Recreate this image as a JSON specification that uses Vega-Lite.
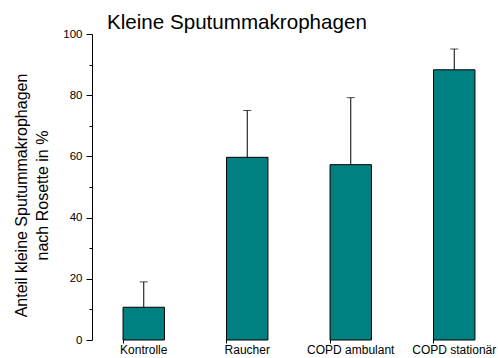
{
  "$schema": "https://vega.github.io/schema/vega-lite/v6.json",
  "autosize": "none",
  "width": 406,
  "height": 306,
  "padding": {"left": 92, "top": 34, "right": 0, "bottom": 18},
  "title": {
    "text": "Kleine Sputummakrophagen",
    "font": "Liberation Sans",
    "fontSize": 20.6,
    "fontWeight": "normal",
    "color": "black",
    "anchor": "start",
    "frame": "group",
    "dx": 15,
    "baseline": "alphabetic",
    "offset": -21.5
  },
  "data": {
    "values": [
      {"gruppe": "Kontrolle", "anteil": 10.7, "oben": 19.0},
      {"gruppe": "Raucher", "anteil": 59.7, "oben": 75.0},
      {"gruppe": "COPD ambulant", "anteil": 57.3, "oben": 79.2},
      {"gruppe": "COPD stationär", "anteil": 88.3, "oben": 95.1}
    ]
  },
  "encoding": {
    "x": {
      "field": "gruppe",
      "type": "nominal",
      "sort": null,
      "scale": {"range": [0, 414], "paddingInner": 0.6, "paddingOuter": 0.3},
      "axis": {
        "title": null,
        "orient": "bottom",
        "domain": false,
        "offset": -3,
        "tickSize": 6,
        "tickColor": "black",
        "bandPosition": 0,
        "labelAngle": 0,
        "labelFont": "Liberation Sans",
        "labelFontSize": 12,
        "labelColor": "black",
        "labelPadding": 1,
        "labelBaseline": "top"
      }
    }
  },
  "layer": [
    {
      "mark": {"type": "bar", "fill": "#008080", "stroke": "black", "strokeWidth": 1},
      "encoding": {
        "y": {
          "field": "anteil",
          "type": "quantitative",
          "scale": {"domain": [0, 100], "nice": false},
          "axis": {
            "title": ["Anteil kleine Sputummakrophagen", "nach Rosette in %"],
            "orient": "left",
            "values": [0, 20, 40, 60, 80, 100],
            "grid": false,
            "domainColor": "black",
            "tickColor": "black",
            "tickSize": 6,
            "labelFont": "Liberation Sans",
            "labelFontSize": 11.5,
            "labelColor": "black",
            "labelPadding": 4,
            "titleFont": "Liberation Sans",
            "titleFontSize": 16,
            "titleFontWeight": "normal",
            "titleColor": "black",
            "titleLineHeight": 21,
            "titleAngle": -90,
            "titleAlign": "center",
            "titleBaseline": "bottom",
            "titleX": -63,
            "titleY": 161
          }
        }
      }
    },
    {
      "mark": {"type": "rule", "color": "black", "strokeWidth": 1},
      "encoding": {
        "y": {"field": "anteil", "type": "quantitative", "axis": null},
        "y2": {"field": "oben"}
      }
    },
    {
      "mark": {"type": "tick", "color": "black", "size": 8, "thickness": 1},
      "encoding": {
        "y": {
          "field": "oben",
          "type": "quantitative",
          "axis": {
            "title": null,
            "orient": "left",
            "values": [10, 30, 50, 70, 90],
            "labels": false,
            "domain": false,
            "grid": false,
            "tickColor": "black",
            "tickSize": 3
          }
        }
      }
    },
    {
      "mark": {"type": "rule", "color": "black", "strokeWidth": 1},
      "encoding": {"y": {"datum": 0, "axis": null}}
    }
  ],
  "resolve": {"axis": {"y": "independent"}},
  "config": {
    "view": {"stroke": null},
    "axis": {"grid": false}
  }
}
